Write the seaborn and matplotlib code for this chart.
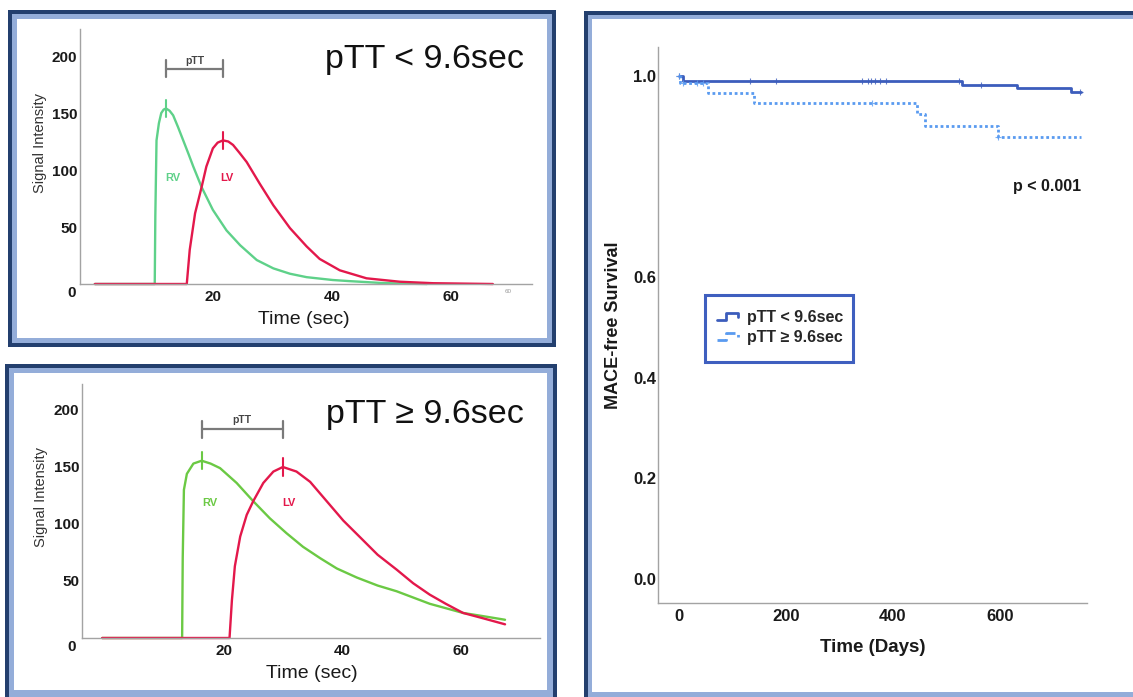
import numpy as np
import matplotlib.pyplot as plt
import seaborn as sns
from matplotlib.patches import Rectangle
from matplotlib.lines import Line2D
from matplotlib.legend_handler import HandlerBase

# ---- signal intensity curves, pTT < 9.6 sec (top left) ----
top_rv_t = [0, 10.1, 10.2, 10.4, 10.8, 11.2, 11.6, 12.0, 12.6, 13.2, 14.0, 14.9, 15.8, 16.6,
            18.0, 19.9, 22.2, 24.5, 27.3, 30.1, 32.9, 35.7, 40.1, 43.0, 48.0, 52.0, 56.0]
top_rv_v = [0, 0, 60, 126, 141, 150, 153, 154, 152, 148, 138, 126, 114, 103,
            85, 65, 47, 34, 21, 13.7, 9, 6, 3.5, 2.5, 1, 0.3, 0]
top_lv_t = [0, 15.5, 16.0, 16.9, 18.0, 18.8, 19.9, 20.7, 21.6, 22.5, 23.3, 24.4, 25.6, 27.8,
            30.1, 32.9, 35.7, 37.9, 41.3, 45.8, 51.4, 57.0, 67.1]
top_lv_v = [0, 0, 30, 62, 85, 103, 119, 124, 126, 125, 122, 115, 107, 88,
            69, 49, 33, 22, 12, 5, 2, 0.7, 0]

# ---- signal intensity curves, pTT >= 9.6 sec (bottom left) ----
bot_rv_t = [-0.5, 13.0, 13.1, 13.3, 13.8, 14.9, 16.3, 17.8, 19.4, 22.2, 25.0, 27.8, 30.6,
            33.4, 36.3, 39.1, 42.5, 46.0, 49.2, 54.8, 60.4, 64.0, 67.5]
bot_rv_v = [0, 0, 70, 130, 144, 153, 155.5, 153, 149, 136, 120, 105, 92,
            80, 70, 61, 53, 46, 41, 30, 22, 19, 16]
bot_lv_t = [-0.5, 21.0, 21.4, 21.9, 22.8, 23.9, 25.0, 26.7, 28.4, 30.0, 32.3, 34.6, 37.4,
            40.2, 43.3, 46.0, 49.2, 52.0, 54.8, 57.5, 60.4, 64.0, 67.5]
bot_lv_v = [0, 0, 33, 63, 89, 108, 120, 136, 146, 150, 146, 137, 120,
            103, 87, 73, 60, 48, 38, 30, 22, 17, 12]

signal_xticks = [20, 40, 60]
signal_yticks = [50, 100, 150, 200]

# ---- Kaplan-Meier, MACE-free survival (right) ----
low_days = [0, 7.5, 529, 632, 733, 751]
low_surv = [1.0, 0.991, 0.983, 0.976, 0.968, 0.968]
low_censor = [0, 133, 181, 342, 353, 359, 366, 376, 387, 523, 564, 750]

high_days = [0, 3, 54, 140, 445, 460, 597, 751]
high_surv = [1.0, 0.987, 0.966, 0.946, 0.925, 0.901, 0.878, 0.878]
high_censor = [0, 7, 33, 45, 361, 597]

km_labels = ['pTT < 9.6sec', 'pTT \u2265 9.6sec']
km_xticks = [0, 200, 400, 600]
km_yticks = [0.0, 0.2, 0.4, 0.6, 1.0]

W, H = 1133, 697
NAVY = '#233f6e'
LIGHT = '#94add9'
SPINE = '#a3a3a3'


def box(x0, y0, x1, y1):
    """Pixel box (top-left origin) -> figure fraction rect."""
    return [x0 / W, 1 - y1 / H, (x1 - x0) / W, (y1 - y0) / H]


def fx(px):
    return px / W


def fy(py):
    return 1 - py / H


def draw_frame(fig, outer, inner):
    """Navy outline, light blue band, white inside."""
    x0, y0, x1, y1 = outer
    for rect, color in [(outer, NAVY), ((x0 + 4, y0 + 4, x1 - 4, y1 - 4), LIGHT), (inner, 'white')]:
        b = box(*rect)
        fig.add_artist(Rectangle((b[0], b[1]), b[2], b[3], transform=fig.transFigure,
                                 facecolor=color, edgecolor='none', zorder=-10))


def style_axes(ax, tick_size, xpad, ypad):
    sns.despine(ax=ax)
    for side in ['left', 'bottom']:
        ax.spines[side].set_color(SPINE)
        ax.spines[side].set_linewidth(1)
    ax.set_facecolor('none')
    ax.tick_params(length=0, labelsize=tick_size, colors='#1a1a1a')
    ax.tick_params(axis='x', pad=xpad)
    ax.tick_params(axis='y', pad=ypad)
    for lab in ax.get_xticklabels() + ax.get_yticklabels():
        lab.set_fontweight('bold')
    ax.set_xlabel('')
    ax.set_ylabel('')


def signal_panel(fig, ax, rv, lv, rv_color, xlim, ylim, bracket_y, rv_xy, lv_xy, ptt_xy):
    """Draw one RV/LV signal intensity panel."""
    lv_color = '#e3184b'
    sns.lineplot(x=rv[0], y=rv[1], ax=ax, color=rv_color, lw=1.7, estimator=None, sort=False)
    sns.lineplot(x=lv[0], y=lv[1], ax=ax, color=lv_color, lw=1.7, estimator=None, sort=False)
    for ln in ax.lines:
        ln.set_clip_on(False)
        ln.set_solid_joinstyle('round')

    # peak marks and pTT bracket between them
    peaks = []
    for (t, v), c in [(rv, rv_color), (lv, lv_color)]:
        i = int(np.argmax(v))
        peaks.append(t[i])
        ax.plot([t[i], t[i]], [v[i] - 7.5, v[i] + 7.5], color=c, lw=1.5)
    ax.plot(peaks, [bracket_y, bracket_y], color='#7a7a7a', lw=1.6)
    for p in peaks:
        ax.plot([p, p], [bracket_y - 7.5, bracket_y + 7.5], color='#7a7a7a', lw=1.6)
    ax.text(ptt_xy[0], ptt_xy[1], 'pTT', fontsize=7.5, fontweight='bold', color='#444444',
            ha='center', va='center')
    ax.text(rv_xy[0], rv_xy[1], 'RV', fontsize=8, fontweight='bold', color=rv_color,
            ha='center', va='center')
    ax.text(lv_xy[0], lv_xy[1], 'LV', fontsize=8, fontweight='bold', color=lv_color,
            ha='center', va='center')

    ax.set_xlim(*xlim)
    ax.set_ylim(*ylim)
    ax.set_xticks(signal_xticks)
    ax.set_yticks(signal_yticks)
    style_axes(ax, 11, 4.5, 2)


class StepHandler(HandlerBase):
    """Small step glyph like the survival plot legend."""

    def create_artists(self, legend, orig, xd, yd, w, h, fontsize, trans):
        x0, y0 = -xd, -yd
        xs = [x0, x0 + 0.45 * w, x0 + 0.45 * w, x0 + w, x0 + w]
        ys = [y0 + 0.2 * h, y0 + 0.2 * h, y0 + 0.8 * h, y0 + 0.8 * h, y0 + 0.45 * h]
        ln = Line2D(xs, ys, color=orig.get_color(), lw=orig.get_linewidth(),
                    linestyle=orig.get_linestyle())
        ln.set_transform(trans)
        return [ln]


def main():
    sns.set_theme(style='white')
    plt.rcParams['font.family'] = ['Liberation Sans', 'DejaVu Sans']

    fig = plt.figure(figsize=(W / 100, H / 100), dpi=100)
    fig.patch.set_facecolor('white')

    draw_frame(fig, (8, 10, 556, 347), (17, 19, 547, 338))
    draw_frame(fig, (5, 364, 557, 712), (14, 373, 547, 690))
    draw_frame(fig, (584, 11, 1145, 712), (592, 19, 1145, 692))

    # ---- top left ----
    ax1 = fig.add_axes(box(80, 29, 532, 284))
    signal_panel(fig, ax1, (top_rv_t, top_rv_v), (top_lv_t, top_lv_v), '#5ed189',
                 (-2.5, 73.7), (0, 223.7), 189, (13.2, 93), (22.3, 93), (16.9, 196))
    ax1.text(-3.9, -8, '0', fontsize=11, fontweight='bold', color='#1a1a1a', ha='center', va='center')
    ax1.text(69.7, -7, '60', fontsize=4.5, color='#999999', ha='center', va='center')
    fig.text(fx(524), fy(68), 'pTT < 9.6sec', fontsize=24.5, ha='right', va='baseline', color='#111111')
    fig.text(fx(40), fy(143), 'Signal Intensity', fontsize=10.5, rotation=90,
             ha='center', va='center', color='#333333')
    fig.text(fx(304), fy(319), 'Time (sec)', fontsize=14, ha='center', va='center', color='#1a1a1a')

    # ---- bottom left ----
    ax2 = fig.add_axes(box(82, 384, 540, 638))
    signal_panel(fig, ax2, (bot_rv_t, bot_rv_v), (bot_lv_t, bot_lv_v), '#6bc944',
                 (-3.9, 73.4), (0, 222.8), 183, (17.6, 118), (31.1, 118), (23.0, 191))
    ax2.text(-5.7, -8, '0', fontsize=11, fontweight='bold', color='#1a1a1a', ha='center', va='center')
    fig.text(fx(524), fy(423), 'pTT \u2265 9.6sec', fontsize=24.5, ha='right', va='baseline', color='#111111')
    fig.text(fx(41), fy(497), 'Signal Intensity', fontsize=10.5, rotation=90,
             ha='center', va='center', color='#333333')
    fig.text(fx(312), fy(673), 'Time (sec)', fontsize=14, ha='center', va='center', color='#1a1a1a')

    # ---- right: Kaplan-Meier ----
    ax3 = fig.add_axes(box(658, 47, 1087, 603))
    solid_c = '#3c5dbc'
    dot_c = '#5a9bf0'
    dots = (0, (1, 1))
    sns.lineplot(x=low_days, y=low_surv, ax=ax3, color=solid_c, lw=2,
                 drawstyle='steps-post', estimator=None, sort=False)
    sns.lineplot(x=high_days, y=high_surv, ax=ax3, color=dot_c, lw=2, linestyle=dots,
                 drawstyle='steps-post', estimator=None, sort=False)
    for days, surv, cens, c in [(low_days, low_surv, low_censor, solid_c),
                                (high_days, high_surv, high_censor, dot_c)]:
        idx = np.searchsorted(days, cens, side='right') - 1
        sns.scatterplot(x=cens, y=np.array(surv)[idx], ax=ax3, marker='+', s=25,
                        color=c, linewidth=0.8, alpha=0.8, zorder=4)
    ax3.set_xlim(-39, 763)
    ax3.set_ylim(-0.048, 1.058)
    ax3.set_xticks(km_xticks)
    ax3.set_yticks(km_yticks)
    ax3.set_yticklabels(['%.1f' % v for v in km_yticks])
    style_axes(ax3, 12, 4, 1.5)

    fig.text(fx(1047), fy(186), 'p < 0.001', fontsize=11.5, fontweight='bold',
             ha='center', va='center', color='#1a1a1a')
    fig.text(fx(613), fy(325), 'MACE-free Survival', fontsize=13, fontweight='bold', rotation=90,
             ha='center', va='center', color='#1a1a1a')
    fig.text(fx(873), fy(648), 'Time (Days)', fontsize=13.5, fontweight='bold',
             ha='center', va='center', color='#1a1a1a')

    handles = [Line2D([], [], color=solid_c, lw=2), Line2D([], [], color=dot_c, lw=2, linestyle=dots)]
    ax3.legend(handles, km_labels, handler_map={Line2D: StepHandler()}, loc='upper left',
               bbox_to_anchor=(fx(717), fy(310)), bbox_transform=fig.transFigure, frameon=False,
               prop={'family': ['Liberation Sans', 'DejaVu Sans'], 'weight': 'bold', 'size': 11.5},
               handlelength=1.3, handletextpad=0.6, labelspacing=0.3, borderpad=0, borderaxespad=0)
    lb = box(705, 295, 853, 362)
    fig.add_artist(Rectangle((lb[0], lb[1]), lb[2], lb[3], transform=fig.transFigure,
                             facecolor='none', edgecolor='#3f5fbf', lw=2.2, zorder=5))

    fig.savefig('out.png', dpi=100)


if __name__ == '__main__':
    main()
